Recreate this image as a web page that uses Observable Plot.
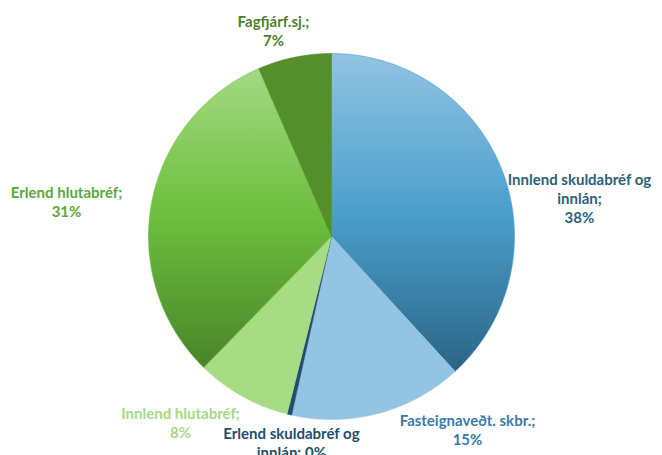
<!DOCTYPE html>
<html>
<head>
<meta charset="utf-8">
<script src="https://cdn.jsdelivr.net/npm/d3@7"></script>
<script src="https://cdn.jsdelivr.net/npm/@observablehq/plot@0.6"></script>
<style>
  html, body { margin: 0; padding: 0; background: #fff; }
  #chart { width: 662px; height: 455px; }
</style>
</head>
<body>
<div id="chart"></div>
<script>
// Data (clockwise from 12 o'clock)
const categories = [
  "Innlend skuldabréf og innlán",
  "Fasteignaveðt. skbr.",
  "Erlend skuldabréf og innlán",
  "Innlend hlutabréf",
  "Erlend hlutabréf",
  "Fagfjárf.sj."
];
const shares = [38.2, 15.3, 0.4, 8.4, 31.2, 6.5];
const labelNames = [
  "Innlend skuldabréf og\ninnlán;",
  "Fasteignaveðt. skbr.;",
  "Erlend skuldabréf og\ninnlán;",
  "Innlend hlutabréf;",
  "Erlend hlutabréf;",
  "Fagfjárf.sj.;"
];

// Styles (separate from data)
const sliceFills = ["url(#gradBlue)", "#93c4e2", "#1f4e6e", "#a7dc84", "url(#gradGreen)", "#548f2c"];
const sliceStrokes = ["#4b9fcc", "#93c4e2", "#1f4e6e", "#a7dc84", "#6cbe3c", "#548f2c"];
const labelColors = ["#2d5f7c", "#3a7aa8", "#1f4e6e", "#a7d886", "#5aa83a", "#4f7f2e"];
// label layout: offsets of label centres (in radius units) from centre
const labelLayout = [
  [1.355, 0.213], [0.743, -1.055], [-0.219, -1.126],
  [-0.825, -1.016], [-1.448, 0.191], [-0.317, 1.126]
];

const pie = d3.pie().sort(null).value(d => d)(shares);
const slices = pie.map((p, i) => {
  const pts = [{x: 0, y: 0}];
  const n = Math.max(2, Math.ceil((p.endAngle - p.startAngle) / 0.005));
  for (let k = 0; k <= n; k++) {
    const a = p.startAngle + (p.endAngle - p.startAngle) * k / n;
    pts.push({x: Math.sin(a), y: Math.cos(a)});
  }
  pts.push({x: 0, y: 0});
  return pts;
});

const total = d3.sum(shares);
const labels = categories.map((c, i) => {
  const pct = Math.round(shares[i] / total * 100) + "%";
  const sep = i === 2 ? " " : "\n";
  return {text: labelNames[i] + sep + pct, x: labelLayout[i][0], y: labelLayout[i][1], color: labelColors[i]};
});

const chart = Plot.plot({
  width: 662,
  height: 455,
  marginLeft: 148,
  marginRight: 148,
  marginTop: 53,
  marginBottom: 36,
  x: {domain: [-1, 1], axis: null},
  y: {domain: [-1, 1], axis: null},
  style: {fontFamily: "Lato, 'Open Sans', sans-serif", background: "#fff"},
  marks: [
    ...slices.map((pts, i) => Plot.line(pts, {
      x: "x", y: "y", fill: sliceFills[i], stroke: sliceStrokes[i], strokeWidth: 0.6, curve: "linear"
    })),
    Plot.text(labels, {
      x: "x", y: "y", text: "text", fill: "color",
      fontSize: 15, fontWeight: "bold", lineHeight: 1.27, textAnchor: "middle"
    })
  ]
});

const defs = `
<defs>
  <linearGradient id="gradBlue" x1="0" y1="0" x2="0" y2="1">
    <stop offset="0" stop-color="#92c3e2"/>
    <stop offset="0.5" stop-color="#4b9fcc"/>
    <stop offset="1" stop-color="#2b6485"/>
  </linearGradient>
  <linearGradient id="gradGreen" x1="0" y1="0" x2="0" y2="1">
    <stop offset="0" stop-color="#a3d983"/>
    <stop offset="0.5" stop-color="#6cbe3c"/>
    <stop offset="1" stop-color="#4a842a"/>
  </linearGradient>
</defs>`;
chart.insertAdjacentHTML("afterbegin", defs);
document.getElementById("chart").appendChild(chart);
</script>
</body>
</html>
